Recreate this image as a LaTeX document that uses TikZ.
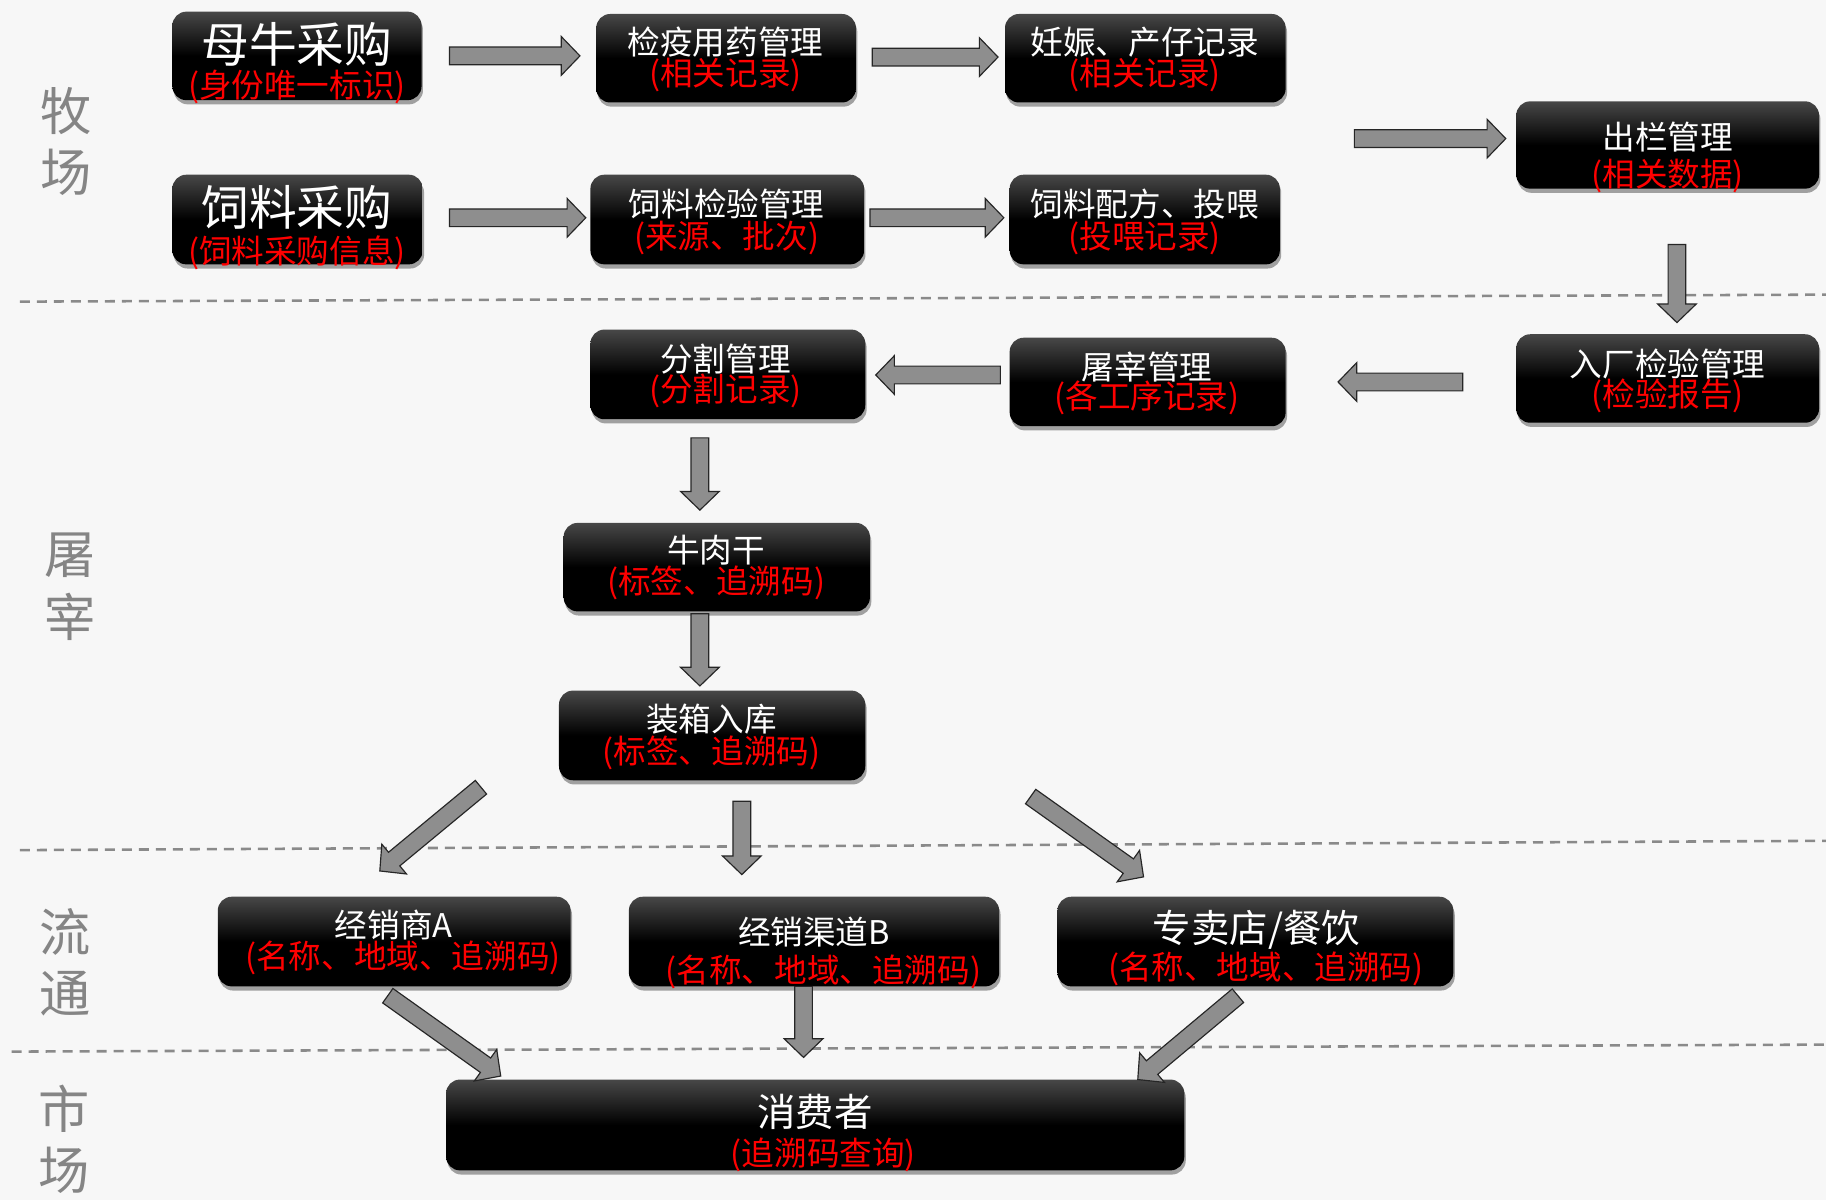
\documentclass[tikz,border=0pt]{standalone}
\usepackage{fontspec}
\newfontfamily\cjk{Noto Sans CJK SC}
\usetikzlibrary{shadows}
\definecolor{bgcol}{HTML}{F7F7F7}
\definecolor{sidegray}{HTML}{858585}
\definecolor{dashgray}{HTML}{8A8A8A}
\definecolor{subred}{HTML}{FF0000}
\definecolor{arrowfill}{HTML}{8E8E8E}
\pgfdeclareverticalshading{boxshade}{100bp}{color(0bp)=(black); color(25bp)=(black); color(50bp)=(black); color(75bp)=(black!72); color(100bp)=(black!72)}
\newcommand\blockarrow[2]{%
  \path (#1); \pgfgetlastxy{\bAx}{\bAy}%
  \path (#2); \pgfgetlastxy{\bBx}{\bBy}%
  \pgfmathsetmacro\bAng{atan2(\bBy-\bAy,\bBx-\bAx)}%
  \pgfmathsetmacro\bLen{veclen(\bBx-\bAx,\bBy-\bAy)}%
  \begin{scope}[shift={(\bAx,\bAy)}, rotate=\bAng]
    \draw[barrow] (0pt,-3.8pt) -- (\bLen pt-8pt,-3.8pt) -- (\bLen pt-8pt,-8.3pt) -- (\bLen pt,0pt)
      -- (\bLen pt-8pt,8.3pt) -- (\bLen pt-8pt,3.8pt) -- (0pt,3.8pt) -- cycle;
  \end{scope}}
\tikzset{
  pbox/.style={rectangle, rounded corners=6pt, shading=boxshade, inner sep=0pt,
    drop shadow={shadow xshift=0.6pt, shadow yshift=-1.8pt, opacity=0.35, fill=black}},
  tight/.style={inner sep=0pt, text height=0.78em, text depth=0.08em},
  ttl/.style={tight, yshift=-2.5pt, font=\cjk\fontsize{14pt}{14pt}\selectfont, text=white},
  bigttl/.style={tight, yshift=-3.7pt, font=\cjk\fontsize{20.5pt}{20.5pt}\selectfont, text=white},
  midttl/.style={tight, yshift=-3pt, font=\cjk\fontsize{16.5pt}{16.5pt}\selectfont, text=white},
  sub/.style={tight, yshift=-2.5pt, font=\cjk\fontsize{14pt}{14pt}\selectfont, text=subred},
  side/.style={font=\cjk\fontsize{22pt}{22pt}\selectfont, text=sidegray, inner sep=0pt},
  barrow/.style={draw=black!85, line width=0.5pt, fill=arrowfill},
  sepline/.style={draw=dashgray, line width=1.1pt, dash pattern=on 4.3pt off 3pt},
}
\begin{document}
\begin{tikzpicture}[x=0.5pt, y=-0.5pt]
\useasboundingbox (0,0) rectangle (1568,1030);
\fill[bgcol] (0,0) rectangle (1568,1030);

% separators
\draw[sepline] (17,259) -- (1568,253);
\draw[sepline] (17,730) -- (1568,722);
\draw[sepline] (10,903) -- (1568,897);

% side labels
\node[side] (L1a) at (57,95) {牧};
\node[side] (L1b) at (57,148) {场};
\node[side] (L2a) at (60,477) {屠};
\node[side] (L2b) at (60,530) {宰};
\node[side] (L3a) at (56,800) {流};
\node[side] (L3b) at (56,853) {通};
\node[side] (L4a) at (55,952) {市};
\node[side] (L4b) at (55,1005) {场};

% boxes
\node[pbox, minimum width=107pt, minimum height=38pt] (cow) at (255,48) {};
\node[pbox, minimum width=111.5pt, minimum height=38pt] (quar) at (623.5,50) {};
\node[pbox, minimum width=120.5pt, minimum height=38pt] (preg) at (983.5,50) {};
\node[pbox, minimum width=130pt, minimum height=37.5pt] (out) at (1432,124.5) {};
\node[pbox, minimum width=107.5pt, minimum height=38.5pt] (feed) at (255.5,188.5) {};
\node[pbox, minimum width=117.5pt, minimum height=38.5pt] (fchk) at (624.5,188.5) {};
\node[pbox, minimum width=116pt, minimum height=38.5pt] (fmix) at (983,188.5) {};
\node[pbox, minimum width=130pt, minimum height=38pt] (inchk) at (1432,325) {};
\node[pbox, minimum width=118.5pt, minimum height=38pt] (slau) at (985.5,328) {};
\node[pbox, minimum width=118pt, minimum height=38.5pt] (cut) at (625,321.5) {};
\node[pbox, minimum width=131.5pt, minimum height=38pt] (jerky) at (615.5,487) {};
\node[pbox, minimum width=131.5pt, minimum height=38.5pt] (pack) at (611.5,631.5) {};
\node[pbox, minimum width=151.5pt, minimum height=38.5pt] (dA) at (338.5,808.5) {};
\node[pbox, minimum width=159pt, minimum height=38.5pt] (dB) at (699,808.5) {};
\node[pbox, minimum width=170pt, minimum height=38.5pt] (shop) at (1078,808.5) {};
\node[pbox, minimum width=317pt, minimum height=39pt] (cons) at (700,966) {};

% box texts
\node[bigttl] (t1) at (255,39) {母牛采购};
\node[sub] (s1) at (255,72) {(身份唯一标识)};
\node[ttl] (t2) at (623,35) {检疫用药管理};
\node[sub] (s2) at (623,61) {(相关记录)};
\node[ttl] (t3) at (983,35) {妊娠、产仔记录};
\node[sub] (s3) at (983,61) {(相关记录)};
\node[ttl] (t4) at (1432,116) {出栏管理};
\node[sub] (s4) at (1432,148) {(相关数据)};
\node[bigttl] (t5) at (255,179) {饲料采购};
\node[sub] (s5) at (255,214) {(饲料采购信息)};
\node[ttl] (t6) at (624,174) {饲料检验管理};
\node[sub] (s6) at (624,201) {(来源、批次)};
\node[ttl] (t7) at (983,174) {饲料配方、投喂};
\node[sub] (s7) at (983,201) {(投喂记录)};
\node[ttl] (t8) at (1432,311) {入厂检验管理};
\node[sub] (s8) at (1432,337) {(检验报告)};
\node[ttl] (t9) at (985,314) {屠宰管理};
\node[sub] (s9) at (985,339) {(各工序记录)};
\node[ttl] (t10) at (623,307) {分割管理};
\node[sub] (s10) at (623,333) {(分割记录)};
\node[ttl] (t11) at (615,471) {牛肉干};
\node[sub] (s11) at (615,498) {(标签、追溯码)};
\node[ttl] (t12) at (611,616) {装箱入库};
\node[sub] (s12) at (611,644) {(标签、追溯码)};
\node[ttl] (t13) at (338,793) {经销商A};
\node[sub] (s13) at (346,820) {(名称、地域、追溯码)};
\node[ttl] (t14) at (699,799) {经销渠道B};
\node[sub] (s14) at (707,832) {(名称、地域、追溯码)};
\node[midttl] (t15) at (1079,796) {专卖店/餐饮};
\node[sub] (s15) at (1087,829) {(名称、地域、追溯码)};
\node[midttl] (t16) at (700,954) {消费者};
\node[sub] (s16) at (707,989) {(追溯码查询)};

% arrow end points
\coordinate (a1s) at (386,48);   \coordinate (a1e) at (498,48);
\coordinate (a2s) at (749,49);   \coordinate (a2e) at (857,49);
\coordinate (a3s) at (386,187);  \coordinate (a3e) at (503,187);
\coordinate (a4s) at (747,187);  \coordinate (a4e) at (862,187);
\coordinate (a5s) at (1163,119); \coordinate (a5e) at (1293,119);
\coordinate (a6s) at (1440,210); \coordinate (a6e) at (1440,277);
\coordinate (a7s) at (1256,328); \coordinate (a7e) at (1149,328);
\coordinate (a8s) at (859,322);  \coordinate (a8e) at (752,322);
\coordinate (a9s) at (601,376);  \coordinate (a9e) at (601,438);
\coordinate (a10s) at (601,527); \coordinate (a10e) at (601,589);
\coordinate (a11s) at (413,676); \coordinate (a11e) at (326,748);
\coordinate (a12s) at (637,688); \coordinate (a12e) at (637,751);
\coordinate (a13s) at (885,684); \coordinate (a13e) at (982,753);
\coordinate (a14s) at (333,855); \coordinate (a14e) at (430,924);
\coordinate (a15s) at (690,847); \coordinate (a15e) at (690,908);
\coordinate (a16s) at (1063,855); \coordinate (a16e) at (977,927);

\blockarrow{a1s}{a1e}
\blockarrow{a2s}{a2e}
\blockarrow{a3s}{a3e}
\blockarrow{a4s}{a4e}
\blockarrow{a5s}{a5e}
\blockarrow{a6s}{a6e}
\blockarrow{a7s}{a7e}
\blockarrow{a8s}{a8e}
\blockarrow{a9s}{a9e}
\blockarrow{a10s}{a10e}
\blockarrow{a11s}{a11e}
\blockarrow{a12s}{a12e}
\blockarrow{a13s}{a13e}
\blockarrow{a14s}{a14e}
\blockarrow{a15s}{a15e}
\blockarrow{a16s}{a16e}
\end{tikzpicture}
\end{document}
